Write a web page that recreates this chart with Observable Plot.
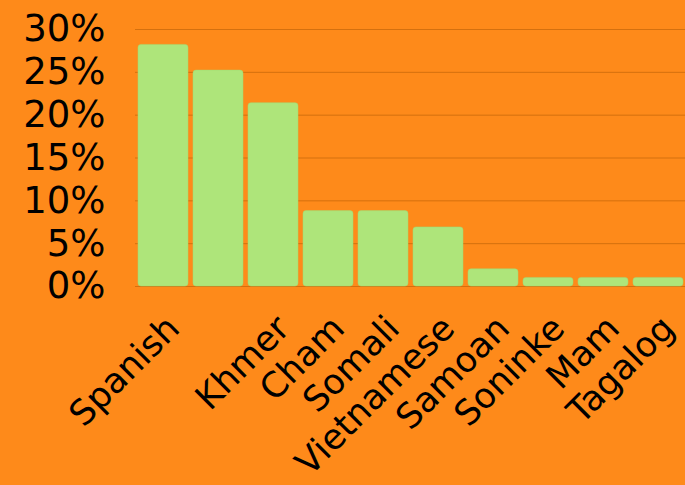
<!DOCTYPE html>
<html>
<head>
<meta charset="utf-8">
<script src="https://cdn.jsdelivr.net/npm/d3@7"></script>
<script src="https://cdn.jsdelivr.net/npm/@observablehq/plot@0.6"></script>
<style>
  html, body { margin: 0; padding: 0; background: #FE8A1A; }
  #chart svg { display: block; }
</style>
</head>
<body>
<div id="chart"></div>
<script>
const languages = ["Spanish", "", "Khmer", "Cham", "Somali", "Vietnamese", "Samoan", "Soninke", "Mam", "Tagalog"];
const shares = [28.2, 25.2, 21.4, 8.8, 8.8, 6.9, 2.0, 1.0, 1.0, 1.0];
const yTicks = [0, 5, 10, 15, 20, 25, 30];

const rows = languages.map((lang, i) => ({lang, key: i, share: shares[i]}));

const chart = Plot.plot({
  width: 685,
  height: 485,
  marginTop: 29,
  marginBottom: 199,
  marginLeft: 135,
  marginRight: 0,
  style: {background: "#FE8A1A", fontFamily: "'DejaVu Sans', sans-serif", color: "#000"},
  x: {domain: rows.map(d => d.key), paddingInner: 0.1, paddingOuter: 0, label: null},
  y: {domain: [0, 30], label: null},
  marks: [
    Plot.gridY(yTicks, {stroke: "#D4700E", strokeOpacity: 1, strokeWidth: 1}),
    Plot.barY(rows, {x: "key", y: "share", fill: "#AEE57A", rx: 3, stroke: "#A3D873", strokeWidth: 0.5}),
    Plot.axisY(yTicks, {tickSize: 0, tickPadding: 30, fontSize: 37, tickFormat: d => d + "%", fill: "#000", label: null}),
    Plot.axisX({tickSize: 0, tickPadding: 36, dx: 10, tickRotate: -45, fontSize: 35, fill: "#000", tickFormat: i => languages[i], label: null})
  ]
});
document.getElementById("chart").appendChild(chart);
</script>
</body>
</html>
